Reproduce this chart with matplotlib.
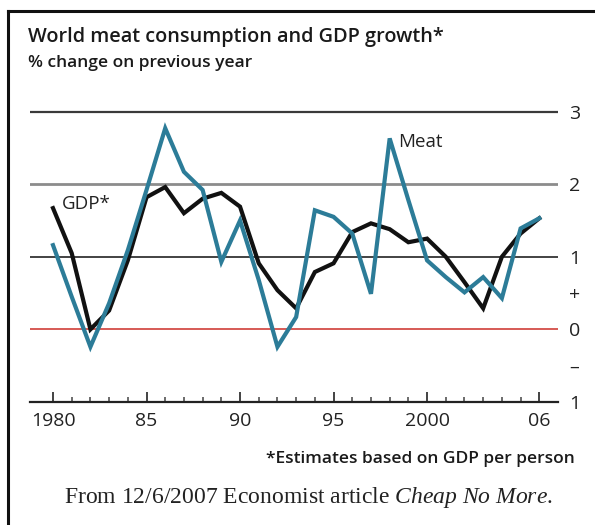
import matplotlib.pyplot as plt
import matplotlib.lines as mlines

# Datos (% cambio sobre el año anterior)
years = list(range(1980, 2007))
gdp = [1.67, 1.05, 0.00, 0.26, 0.95, 1.82, 1.96, 1.60, 1.80, 1.88,
       1.69, 0.91, 0.54, 0.29, 0.79, 0.91, 1.34, 1.46, 1.38, 1.20,
       1.25, 1.00, 0.65, 0.29, 1.00, 1.32, 1.53]
meat = [1.16, 0.45, -0.24, 0.36, 1.09, 1.92, 2.77, 2.17, 1.92, 0.93,
        1.50, 0.68, -0.24, 0.17, 1.64, 1.55, 1.32, 0.49, 2.63, 1.78,
        0.95, 0.72, 0.51, 0.72, 0.43, 1.39, 1.53]
x_ticks = [1980, 1985, 1990, 1995, 2000, 2006]
x_labels = ['1980', '85', '90', '95', '2000', '06']
y_ticks = [3, 2, 1, 0.5, 0, -0.5, -1]
y_labels = ['3', '2', '1', '+', '0', '–', '1']

plt.rcParams['font.family'] = ['Open Sans', 'DejaVu Sans']
plt.rcParams['mathtext.fontset'] = 'custom'
plt.rcParams['mathtext.rm'] = 'Liberation Serif'
plt.rcParams['mathtext.it'] = 'Liberation Serif:italic'

W, H = 595, 525
fig = plt.figure(figsize=(W / 100, H / 100), dpi=100)

# Ejes colocados en píxeles
left, right, top, bottom = 30, 558, 89.75, 402
ax = fig.add_axes([left / W, (H - bottom) / H, (right - left) / W, (bottom - top) / H])
ax.set_xlim(1978.77, 2007.0)
ax.set_ylim(-1, 3.3)

# Líneas horizontales
ax.axhline(3, color='#3a3a3a', lw=1.6, zorder=1)
ax.axhline(2, color='#8c8c8c', lw=2.0, zorder=1)
ax.axhline(1, color='#222222', lw=1.2, zorder=1)
ax.axhline(0, color='#d65a55', lw=1.4, zorder=1)

ax.plot(years, gdp, color='#111111', lw=3, zorder=3, solid_joinstyle='miter')
ax.plot(years, meat, color='#2c7c98', lw=3, zorder=4, solid_joinstyle='miter')

ax.text(1980.5, 1.73, 'GDP*', fontsize=13.5, fontweight='medium', color='#222222', va='center')
ax.text(1998.45, 2.58, 'Meat', fontsize=13.5, fontweight='medium', color='#222222', va='center')

for s in ['top', 'left', 'right']:
    ax.spines[s].set_visible(False)
ax.spines['bottom'].set_color('#222222')
ax.spines['bottom'].set_linewidth(1.6)

ax.set_xticks(x_ticks)
ax.set_xticklabels(x_labels, fontsize=14, fontweight='medium', color='#222222')
ax.set_xticks(years, minor=True)
ax.tick_params(axis='x', which='major', direction='in', length=7, width=1.2,
               color='#222222', pad=7)
ax.tick_params(axis='x', which='minor', direction='in', length=3.5, width=1.1,
               color='#444444')

ax.yaxis.tick_right()
ax.set_yticks(y_ticks)
ax.set_yticklabels(y_labels, fontsize=14, fontweight='medium', color='#222222')
ax.tick_params(axis='y', length=0, pad=8)

# Títulos y notas
fig.text(28 / W, 1 - 37 / H, 'World meat consumption and GDP growth*', fontsize=14.3,
         fontweight='semibold', color='#1a1a1a', va='center')
fig.text(28 / W, 1 - 63 / H, '% change on previous year', fontsize=12.5,
         fontweight='semibold', color='#1a1a1a', va='center')
fig.text(575 / W, 1 - 459 / H, '*Estimates based on GDP per person', fontsize=12.5,
         fontweight='semibold', color='#1a1a1a', va='center', ha='right')
fig.text(308 / W, 1 - 497 / H,
         r'From 12/6/2007 Economist article $\mathit{Cheap\ No\ More}$.',
         fontsize=17, family='Liberation Serif', color='#222222', va='center', ha='center')

# Marco
fig.add_artist(mlines.Line2D([8 / W, 1], [1 - 11 / H, 1 - 11 / H], color='#111111', lw=2.2))
fig.add_artist(mlines.Line2D([8 / W, 8 / W], [1 - 11 / H, 0], color='#111111', lw=2.2))

plt.savefig('out.png', dpi=100)
